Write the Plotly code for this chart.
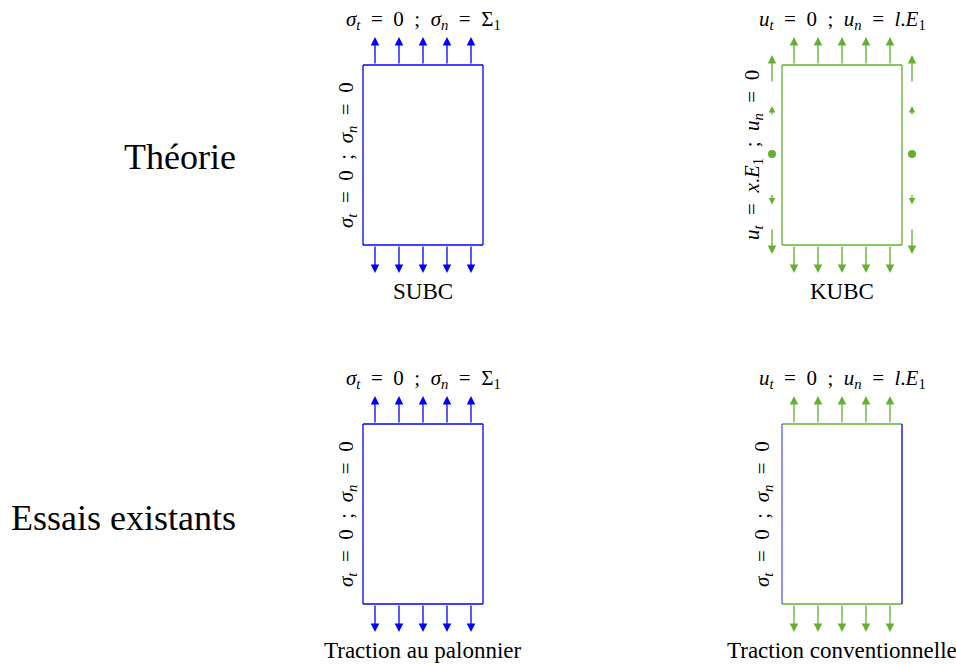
import plotly.graph_objects as go

# ---- diagram content ----
row_labels = ["Théorie", "Essais existants"]
row_label_y = [157, 518]

panel_cx = [423, 842, 423, 842]
panel_top = [65, 65, 424, 424]
rect_w = 120
rect_h = 180

S = "\u2002"  # math-like spacing
def sub(v, s):
    return f"<i>{v}</i><sub>{s}</sub>"

sig_top = f"{sub('σ','<i>t</i>')}{S}={S}0{S};{S}{sub('σ','<i>n</i>')}{S}={S}Σ<sub>1</sub>"
u_top = f"{sub('u','<i>t</i>')}{S}={S}0{S};{S}{sub('u','<i>n</i>')}{S}={S}<i>l</i>.{sub('E','1')}"
sig_side = f"{sub('σ','<i>t</i>')}{S}={S}0{S};{S}{sub('σ','<i>n</i>')}{S}={S}0"
u_side = f"{sub('u','<i>t</i>')}{S}={S}<i>x</i>.{sub('E','1')}{S};{S}{sub('u','<i>n</i>')}{S}={S}0"

top_labels = [sig_top, u_top, sig_top, u_top]
side_labels = [sig_side, u_side, sig_side, sig_side]
side_label_dx = [-76, -89, -76, -79]
bottom_labels = ["SUBC", "KUBC", "Traction au palonnier", "Traction conventionnelle"]

# colours of the edges: top, bottom, left, right
BLUE = "#0000ff"
GREEN = "#62b22f"
edge_top = [BLUE, GREEN, BLUE, GREEN]
edge_bottom = [BLUE, GREEN, BLUE, GREEN]
edge_left = [BLUE, GREEN, BLUE, "#5a5aff"]
edge_right = [BLUE, GREEN, BLUE, "#0000cc"]
arrow_color = [BLUE, GREEN, BLUE, GREEN]

normal_arrow_offsets = [-48, -24, 0, 24, 48]
normal_arrow_len = 28

# KUBC lateral displacement arrows (centre offset from mid-height, signed length)
kubc_side_offsets = [-86, -44, 44, 86]
kubc_side_lengths = [-28, -10, 11, 26]
kubc_side_gap = 10

FONT = "Liberation Serif"
LBL = 21
BOT = 23

fig = go.Figure()
shapes = []
annotations = []

for i in range(4):
    cx = panel_cx[i]
    x0, x1 = cx - rect_w / 2, cx + rect_w / 2
    y0, y1 = panel_top[i], panel_top[i] + rect_h
    edges = [
        (x0, y0, x1, y0, edge_top[i]),
        (x0, y1, x1, y1, edge_bottom[i]),
        (x0, y0, x0, y1, edge_left[i]),
        (x1, y0, x1, y1, edge_right[i]),
    ]
    for ex0, ey0, ex1, ey1, c in edges:
        shapes.append(dict(type="line", x0=ex0, y0=ey0, x1=ex1, y1=ey1,
                           xref="x", yref="y", line=dict(color=c, width=1.3)))
    # normal arrows top and bottom
    for off in normal_arrow_offsets:
        ax = cx + off
        annotations.append(dict(x=ax, y=y0 - normal_arrow_len, ax=ax, ay=y0,
                                xref="x", yref="y", axref="x", ayref="y",
                                text="", showarrow=True, arrowhead=2, arrowsize=1.3,
                                arrowwidth=1.3, arrowcolor=arrow_color[i]))
        annotations.append(dict(x=ax, y=y1 + normal_arrow_len, ax=ax, ay=y1,
                                xref="x", yref="y", axref="x", ayref="y",
                                text="", showarrow=True, arrowhead=2, arrowsize=1.3,
                                arrowwidth=1.3, arrowcolor=arrow_color[i]))
    # labels
    annotations.append(dict(x=cx, y=y0 - 45, xref="x", yref="y", text=top_labels[i],
                            showarrow=False, font=dict(family=FONT, size=LBL, color="black")))
    annotations.append(dict(x=cx + side_label_dx[i], y=(y0 + y1) / 2, xref="x", yref="y",
                            text=side_labels[i], textangle=-90, showarrow=False,
                            font=dict(family=FONT, size=LBL, color="black")))
    annotations.append(dict(x=cx, y=y1 + 46, xref="x", yref="y", text=bottom_labels[i],
                            showarrow=False, font=dict(family=FONT, size=BOT, color="black")))

# KUBC side arrows and dots
cx = panel_cx[1]
ymid = panel_top[1] + rect_h / 2
for sx in [cx - rect_w / 2 - kubc_side_gap, cx + rect_w / 2 + kubc_side_gap]:
    for off, ln in zip(kubc_side_offsets, kubc_side_lengths):
        yc = ymid + off
        annotations.append(dict(x=sx, y=yc + ln / 2, ax=sx, ay=yc - ln / 2,
                                xref="x", yref="y", axref="x", ayref="y",
                                text="", showarrow=True, arrowhead=2,
                                arrowsize=1.3 if abs(ln) > 15 else 1.0,
                                arrowwidth=1.3, arrowcolor=GREEN))
    fig.add_trace(go.Scatter(x=[sx], y=[ymid - 1], mode="markers",
                             marker=dict(size=8, color=GREEN), hoverinfo="skip"))

for lbl, yy in zip(row_labels, row_label_y):
    annotations.append(dict(x=238, y=yy, xref="x", yref="y", text=lbl, xanchor="right",
                            showarrow=False, font=dict(family=FONT, size=36, color="black")))

fig.update_layout(
    width=956, height=664, margin=dict(l=0, r=0, t=0, b=0),
    paper_bgcolor="white", plot_bgcolor="white", showlegend=False,
    xaxis=dict(range=[0, 956], visible=False, fixedrange=True),
    yaxis=dict(range=[664, 0], visible=False, fixedrange=True),
    shapes=shapes, annotations=annotations,
)
fig.write_html(
    "out.html",
    config={"displayModeBar": False},
    post_script="document.body.style.margin='0';document.documentElement.style.overflow='hidden';",
)
